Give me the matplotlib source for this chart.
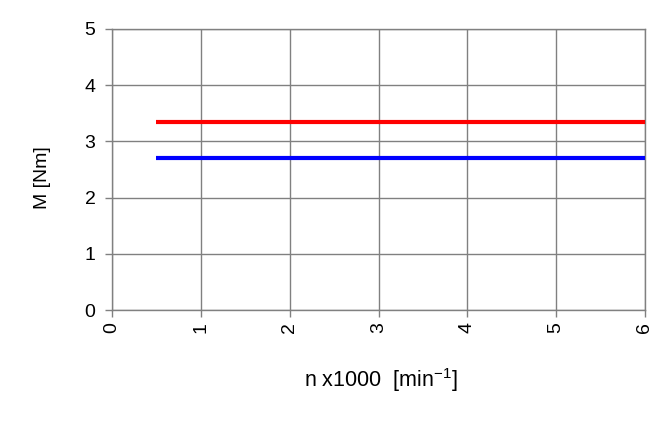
import matplotlib
matplotlib.use("Agg")
import matplotlib.pyplot as plt

plt.rcParams['font.family'] = ['Liberation Sans', 'DejaVu Sans']
plt.rcParams['mathtext.default'] = 'regular'

# data
n_red = [0.5, 6.0]
m_red = [3.35, 3.35]
n_blue = [0.5, 6.0]
m_blue = [2.71, 2.71]

fig = plt.figure(figsize=(6.67, 4.30), dpi=100)
ax = fig.add_axes([0.168, 0.279, 0.799, 0.654])

ax.plot(n_red, m_red, color='#ff0000', linewidth=3, solid_capstyle='butt', zorder=3)
ax.plot(n_blue, m_blue, color='#0000ff', linewidth=3, solid_capstyle='butt', zorder=3)

ax.set_xlim(0, 6)
ax.set_ylim(0, 5)
ax.set_xticks(range(0, 7))
ax.set_yticks(range(0, 6))
ax.grid(True, color='#808080', linewidth=1)
for s in ax.spines.values():
    s.set_color('#808080')
    s.set_linewidth(1)
ax.tick_params(colors='#808080', labelcolor='black', labelsize=14, length=5, width=1)
ax.tick_params(axis='y', pad=7)
plt.setp(ax.get_xticklabels(), rotation=90)

ax.set_xlabel('n x1000  [min$^{-1}$]', fontsize=15.5)
ax.set_ylabel('M [Nm]', fontsize=14)
ax.xaxis.set_label_coords(0.505, -0.2)
ax.yaxis.set_label_coords(-0.114, 0.47)

fig.savefig('out.png', dpi=100)
